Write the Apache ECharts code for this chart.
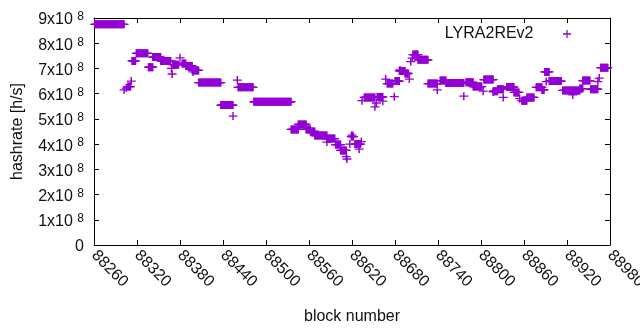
<!DOCTYPE html>
<html>
<head>
<meta charset="utf-8">
<script src="https://cdn.jsdelivr.net/npm/echarts@6/dist/echarts.min.js"></script>
<style>
html, body { margin: 0; padding: 0; background: #fff; }
#chart { width: 640px; height: 330px; }
</style>
</head>
<body>
<div id="chart"></div>
<script>
// blocks that share (about) the same hashrate: [first block, last block, hashrate in 1e8 h/s]
const runs = [
  [88261, 88302, 8.75], [88307, 88311, 6.28], [88313, 88318, 7.3], [88319, 88335, 7.6],
  [88336, 88342, 7.05], [88342, 88353, 7.45], [88353, 88367, 7.3], [88370, 88378, 7.15],
  [88383, 88388, 7.2], [88388, 88397, 7.1], [88397, 88406, 6.92], [88406, 88437, 6.44],
  [88437, 88454, 5.55], [88461, 88482, 6.25], [88483, 88535, 5.68], [88535, 88545, 4.58],
  [88545, 88556, 4.78], [88556, 88562, 4.58], [88562, 88568, 4.5], [88568, 88585, 4.34],
  [88585, 88596, 4.22], [88597, 88604, 3.98], [88604, 88612, 3.75], [88619, 88622, 4.3],
  [88624, 88632, 4.0], [88637, 88652, 5.85], [88655, 88663, 5.87], [88669, 88677, 6.4],
  [88680, 88686, 6.5], [88686, 88694, 6.9], [88694, 88698, 6.8], [88705, 88712, 7.55],
  [88712, 88726, 7.34], [88726, 88739, 6.4], [88743, 88751, 6.52], [88751, 88776, 6.42],
  [88779, 88789, 6.45], [88789, 88801, 6.28], [88804, 88817, 6.56], [88817, 88823, 6.1],
  [88823, 88831, 6.18], [88836, 88846, 6.26], [88846, 88853, 6.05], [88857, 88864, 5.72],
  [88864, 88874, 5.85], [88877, 88885, 6.25], [88885, 88888, 6.15], [88889, 88895, 6.86],
  [88895, 88912, 6.5], [88914, 88938, 6.13], [88938, 88942, 6.2], [88942, 88952, 6.52],
  [88953, 88963, 6.18], [88967, 88977, 7.03]
];

// single blocks away from the runs: [block, hashrate in 1e8 h/s]
const singles = [
  [88302, 6.15], [88305, 6.22], [88312, 6.5], [88315, 7.3], [88368, 7.0], [88369, 6.78],
  [88380, 7.42], [88398, 6.86], [88454, 5.11], [88460, 6.54], [88585, 4.08], [88612, 3.5],
  [88613, 3.41], [88617, 4.0], [88620, 4.36], [88630, 3.8], [88633, 4.1], [88634, 5.72],
  [88652, 5.48], [88654, 5.63], [88663, 5.7], [88667, 6.58], [88679, 5.88], [88687, 6.94],
  [88698, 6.8], [88700, 6.58], [88702, 7.27], [88704, 7.41], [88739, 6.15], [88776, 5.9],
  [88803, 6.1], [88817, 6.07], [88831, 5.85], [88854, 5.8], [88891, 6.48], [88928, 5.95],
  [88963, 6.48], [88965, 6.62]
];

const seriesName = 'LYRA2REv2';
const xMin = 88260, xMax = 88980, xStep = 60;
const yMax = 9e8, yStep = 1e8;

const points = [];
runs.forEach(r => {
  for (let b = r[0]; b <= r[1]; b++) points.push([b, r[2] * 1e8]);
});
singles.forEach(p => points.push([p[0], p[1] * 1e8]));

const font = 'Liberation Sans, Arial, sans-serif';
const ink = '#111';
const plus = 'path://M0,4.2H10V5.8H0Z M4.2,0H5.8V10H4.2Z';

const frameLine = { onZero: false, lineStyle: { color: '#000', width: 1 } };
const tick = { inside: true, length: 5, lineStyle: { color: '#000', width: 1 } };

const chart = echarts.init(document.getElementById('chart'));
chart.setOption({
  animation: false,
  backgroundColor: '#fff',
  grid: { left: 94, right: 30, top: 18, bottom: 85, outerBoundsMode: 'none' },
  legend: {
    right: 64, top: 21, align: 'right', itemWidth: 9, itemHeight: 8,
    textStyle: { fontSize: 16, color: ink, fontFamily: font, padding: [0, 24, 0, 0] },
    data: [{ name: seriesName, icon: plus }]
  },
  xAxis: [{
    type: 'value', position: 'bottom', min: xMin, max: xMax, interval: xStep,
    name: 'block number', nameLocation: 'middle', nameGap: 64,
    nameTextStyle: { fontSize: 16, color: ink, fontFamily: font },
    axisLine: frameLine, axisTick: tick, splitLine: { show: false },
    axisLabel: {
      rotate: -45, margin: 8, fontSize: 16, color: ink, fontFamily: font,
      showMaxLabel: true, formatter: v => String(v)
    }
  }, {
    type: 'value', position: 'top', min: xMin, max: xMax, interval: xStep,
    axisLine: frameLine, axisTick: tick, splitLine: { show: false }, axisLabel: { show: false }
  }],
  yAxis: [{
    type: 'value', position: 'left', min: 0, max: yMax, interval: yStep,
    name: 'hashrate [h/s]', nameLocation: 'middle', nameGap: 68,
    nameTextStyle: { fontSize: 16, color: ink, fontFamily: font },
    axisLine: frameLine, axisTick: tick, splitLine: { show: false },
    axisLabel: {
      margin: 10, fontSize: 16, color: ink, fontFamily: font, padding: [4, 0, 0, 0],
      formatter: v => v === 0 ? '0' : '{b|' + (v / 1e8) + 'x10 }{s|8}',
      rich: {
        b: { fontSize: 16, color: ink, fontFamily: font, lineHeight: 18 },
        s: { fontSize: 12, color: ink, fontFamily: font, verticalAlign: 'top', lineHeight: 12 }
      }
    }
  }, {
    type: 'value', position: 'right', min: 0, max: yMax, interval: yStep,
    axisLine: frameLine, axisTick: tick, splitLine: { show: false }, axisLabel: { show: false }
  }],
  series: [{
    name: seriesName, type: 'scatter', data: points,
    symbol: plus, symbolSize: [9, 8], clip: false,
    itemStyle: { color: '#9400d3', opacity: 1 }
  }]
});
</script>
</body>
</html>
